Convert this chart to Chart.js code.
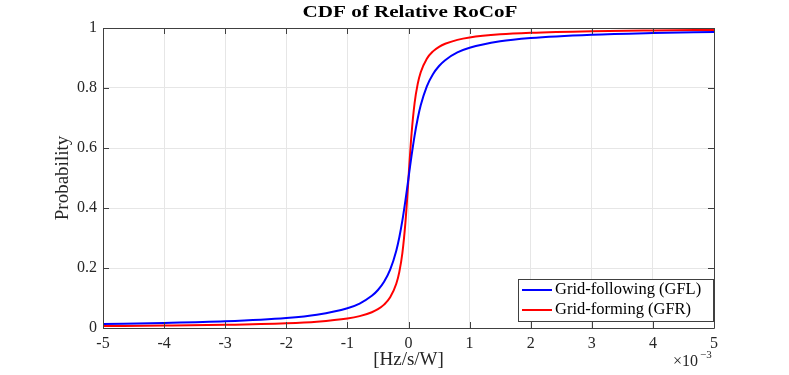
<!DOCTYPE html>
<html>
<head>
<meta charset="utf-8">
<script src="https://cdn.jsdelivr.net/npm/chart.js@4/dist/chart.umd.min.js"></script>
<style>
  html, body { margin: 0; padding: 0; background: #fff; }
  #wrap { width: 789px; height: 375px; }
</style>
</head>
<body>
<div id="wrap"><canvas id="myChart" width="789" height="375"></canvas></div>
<script>
'use strict';

// x in units of 1e-3 Hz/s/W
const xVals = [-5, -4, -3, -2, -1.5, -1, -0.8, -0.6, -0.5, -0.4, -0.3, -0.2, -0.15, -0.1, -0.05, -0.02, 0,
    0.02, 0.05, 0.1, 0.15, 0.2, 0.3, 0.4, 0.5, 0.6, 0.8, 1, 1.5, 2, 3, 4, 5];
const gflVals = [0.0134, 0.0167, 0.0222, 0.0333, 0.0443, 0.0659, 0.0816, 0.1072, 0.1266, 0.1539, 0.1944, 0.2578, 0.3026, 0.3585, 0.4256, 0.4698, 0.5,
    0.5302, 0.5744, 0.6415, 0.6974, 0.7422, 0.8056, 0.8461, 0.8734, 0.8928, 0.9184, 0.9341, 0.9557, 0.9667, 0.9778, 0.9833, 0.9866];
const gfrVals = [0.0064, 0.0080, 0.0106, 0.0159, 0.0212, 0.0317, 0.0396, 0.0526, 0.0628, 0.0780, 0.1024, 0.1476, 0.1872, 0.25, 0.3524, 0.4372, 0.5,
    0.5628, 0.6476, 0.75, 0.8128, 0.8524, 0.8976, 0.9220, 0.9372, 0.9474, 0.9604, 0.9683, 0.9788, 0.9841, 0.9894, 0.9920, 0.9936];
const seriesNames = ['Grid-following (GFL)', 'Grid-forming (GFR)'];
const seriesColors = ['#0000ff', '#ff0000'];

const FONT = '"Liberation Serif", "Times New Roman", serif';
const AXIS_COL = '#404040';

function toPoints(ys) {
    return xVals.map((x, i) => ({ x: x, y: ys[i] }));
}

// frame, inward ticks, titles, legend
const matlabAxes = {
    id: 'matlabAxes',
    afterDraw(chart) {
        const ctx = chart.ctx;
        const a = chart.chartArea;
        const xs = chart.scales.x;
        const ys = chart.scales.y;
        ctx.save();
        ctx.strokeStyle = AXIS_COL;
        ctx.lineWidth = 1;
        ctx.beginPath();
        ctx.rect(Math.round(a.left) + 0.5, Math.round(a.top) + 0.5, Math.round(a.right - a.left), Math.round(a.bottom - a.top));
        ctx.stroke();
        const tl = 6;
        ctx.beginPath();
        xs.ticks.forEach(t => {
            const px = Math.round(xs.getPixelForValue(t.value)) + 0.5;
            ctx.moveTo(px, a.bottom); ctx.lineTo(px, a.bottom - tl);
            ctx.moveTo(px, a.top); ctx.lineTo(px, a.top + tl);
        });
        ys.ticks.forEach(t => {
            const py = Math.round(ys.getPixelForValue(t.value)) + 0.5;
            ctx.moveTo(a.left, py); ctx.lineTo(a.left + tl, py);
            ctx.moveTo(a.right, py); ctx.lineTo(a.right - tl, py);
        });
        ctx.stroke();

        // title, stretched to the width of the original wide bold face
        ctx.fillStyle = '#000';
        ctx.textAlign = 'center';
        ctx.textBaseline = 'middle';
        ctx.font = 'bold 17px ' + FONT;
        const title = 'CDF of Relative RoCoF';
        const tw = ctx.measureText(title).width;
        ctx.save();
        ctx.translate(410, 13);
        ctx.scale(215 / tw, 1);
        ctx.fillText(title, 0, 0);
        ctx.restore();

        ctx.fillStyle = '#262626';
        ctx.font = '19px ' + FONT;
        ctx.fillText('[Hz/s/W]', (a.left + a.right) / 2, 360);

        ctx.save();
        ctx.translate(63, (a.top + a.bottom) / 2);
        ctx.rotate(-Math.PI / 2);
        ctx.fillText('Probability', 0, 0);
        ctx.restore();

        // exponent label
        ctx.textAlign = 'left';
        ctx.font = '16px ' + FONT;
        ctx.fillText('\u00d710', 673, 362);
        ctx.font = '11px ' + FONT;
        ctx.fillText('\u22123', 700, 355);

        // legend
        const lx = 518, ly = 279, lw = 195, lh = 42;
        ctx.fillStyle = '#fff';
        ctx.fillRect(lx, ly, lw, lh);
        ctx.strokeStyle = AXIS_COL;
        ctx.lineWidth = 1;
        ctx.strokeRect(lx + 0.5, ly + 0.5, lw, lh);
        ctx.font = '16.5px ' + FONT;
        ctx.fillStyle = '#000';
        seriesNames.forEach((name, i) => {
            const yy = ly + 11 + i * 20;
            ctx.strokeStyle = seriesColors[i];
            ctx.lineWidth = 2;
            ctx.beginPath();
            ctx.moveTo(lx + 4, yy); ctx.lineTo(lx + 34, yy);
            ctx.stroke();
            ctx.fillText(name, lx + 37, yy);
        });
        ctx.restore();
    }
};

const ctx = document.getElementById('myChart');
const myChart = new Chart(ctx, {
    type: 'line',
    data: {
        datasets: [{
            label: seriesNames[0],
            data: toPoints(gflVals),
            borderColor: seriesColors[0],
            borderWidth: 2,
            pointRadius: 0,
            cubicInterpolationMode: 'monotone',
            fill: false
        },
        {
            label: seriesNames[1],
            data: toPoints(gfrVals),
            borderColor: seriesColors[1],
            borderWidth: 2,
            pointRadius: 0,
            cubicInterpolationMode: 'monotone',
            fill: false
        }]
    },
    options: {
        responsive: false,
        animation: false,
        layout: { padding: { top: 28, right: 75, left: 0, bottom: 0 } },
        plugins: {
            legend: { display: false },
            title: { display: false },
            tooltip: { enabled: false }
        },
        scales: {
            x: {
                type: 'linear',
                min: -5,
                max: 5,
                afterFit: s => { s.height = 47; },
                grid: { color: '#e6e6e6', drawTicks: false },
                border: { display: false },
                ticks: {
                    stepSize: 1,
                    padding: 6,
                    color: '#262626',
                    font: { family: FONT, size: 16 },
                    maxRotation: 0
                }
            },
            y: {
                min: 0,
                max: 1,
                afterFit: s => { s.width = 103; },
                grid: { color: '#e6e6e6', drawTicks: false },
                border: { display: false },
                ticks: {
                    stepSize: 0.2,
                    padding: 6,
                    color: '#262626',
                    font: { family: FONT, size: 16 },
                    callback: v => String(Number(v.toFixed(1)))
                }
            }
        }
    },
    plugins: [matlabAxes]
});
</script>
</body>
</html>
